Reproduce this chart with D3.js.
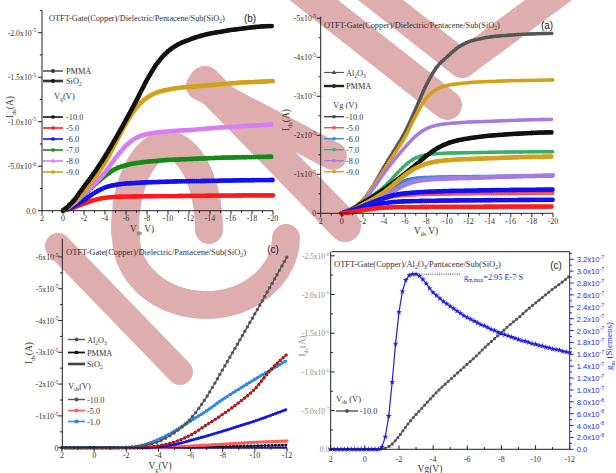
<!DOCTYPE html>
<html><head><meta charset="utf-8">
<script src="https://cdn.jsdelivr.net/npm/d3@7"></script>
<style>
html,body{margin:0;padding:0;background:#fff;}
svg{display:block;}
</style></head><body>
<svg id="chart" width="616" height="473"></svg>
<script>
// ---------- grids ----------
const vdsGrid = [0,-1,-2,-3,-4,-5,-6,-7,-8,-9,-10,-11,-12,-13,-14,-15,-16,-17,-18,-19,-20];
const vgGrid = [2,1,0,-1,-2,-3,-4,-5,-6,-7,-8,-9,-10,-11,-12];
const vgHalfGrid = [2,1.5,1,0.5,0,-0.5,-1,-1.5,-2,-2.5,-3,-3.5,-4,-4.5,-5,-5.5,-6,-6.5,-7,-7.5,-8,-8.5,-9,-9.5,-10,-10.5,-11,-11.5,-12];
const vgFineGrid = [2,1.8,1.6,1.4,1.2,1,0.8,0.6,0.4,0.2,0,-0.2,-0.4,-0.6,-0.8,
  -1,-1.2,-1.4,-1.6,-1.8,-2,-2.2,-2.4,-2.6,-2.8,-3,-3.2,-3.4,-3.6,-3.8,
  -4,-4.2,-4.4,-4.6,-4.8,-5,-5.2,-5.4,-5.6,-5.8,-6,-6.2,-6.4,-6.6,-6.8,
  -7,-7.2,-7.4,-7.6,-7.8,-8,-8.2,-8.4,-8.6,-8.8,-9,-9.2,-9.4,-9.6,-9.8,
  -10,-10.2,-10.4,-10.6,-10.8,-11,-11.2,-11.4,-11.6,-11.8,-12];

// ---------- output curves, PMMA dielectric (drain current, µA) ----------
const pmmaVg10 = [0,-1.1,-2.7,-4.3,-6.1,-8.1,-10.2,-12.4,-14.7,-16.6,-17.9,-18.7,-19.2,-19.6,-19.9,-20.1,-20.3,-20.45,-20.6,-20.7,-20.75];
const pmmaVg9  = [0,-0.9,-2.2,-3.7,-5.4,-7.6,-9.8,-11.6,-12.7,-13.3,-13.6,-13.8,-13.9,-14.0,-14.1,-14.2,-14.3,-14.4,-14.45,-14.5,-14.57];
const pmmaVg8  = [0,-0.8,-1.9,-3.0,-4.3,-5.9,-7.3,-8.2,-8.6,-8.8,-8.9,-9.0,-9.05,-9.15,-9.25,-9.35,-9.4,-9.5,-9.55,-9.62,-9.7];
const pmmaVg7  = [0,-0.8,-1.8,-2.9,-3.9,-4.7,-5.1,-5.35,-5.5,-5.6,-5.7,-5.75,-5.8,-5.85,-5.9,-5.95,-5.97,-6.0,-6.02,-6.05,-6.07];
const pmmaVg6  = [0,-0.5,-1.2,-2.0,-2.6,-2.9,-3.05,-3.12,-3.18,-3.22,-3.26,-3.29,-3.31,-3.33,-3.35,-3.37,-3.39,-3.41,-3.42,-3.44,-3.45];
const pmmaVg5  = [0,-0.35,-0.8,-1.2,-1.45,-1.55,-1.58,-1.6,-1.62,-1.63,-1.64,-1.65,-1.66,-1.67,-1.68,-1.69,-1.7,-1.71,-1.72,-1.72,-1.73];

// ---------- output curves, Al2O3 dielectric (µA) ----------
const alVg10 = [0,-1.2,-3.4,-7.2,-11.9,-16.3,-20.9,-26.8,-32.9,-37.5,-40.2,-42.5,-44.0,-44.7,-45.2,-45.5,-45.7,-45.9,-46.0,-46.1,-46.15];
const alVg9  = [0,-1.2,-3.3,-7.0,-11.1,-15.3,-19.6,-25.0,-29.5,-31.8,-32.8,-33.2,-33.5,-33.7,-33.8,-33.9,-34.0,-34.05,-34.1,-34.15,-34.2];
const alVg8  = [0,-1.1,-3.0,-6.4,-10.3,-13.8,-17.0,-19.8,-21.7,-22.6,-23.0,-23.2,-23.4,-23.5,-23.6,-23.7,-23.8,-23.9,-24.0,-24.05,-24.1];
const alVg7  = [0,-1.0,-2.8,-4.7,-6.8,-9.6,-12.3,-14.2,-15.0,-15.3,-15.45,-15.5,-15.55,-15.6,-15.65,-15.7,-15.72,-15.75,-15.78,-15.8,-15.8];
const alVg6  = [0,-0.7,-1.9,-3.3,-5.0,-6.9,-8.4,-9.0,-9.2,-9.3,-9.35,-9.4,-9.4,-9.45,-9.45,-9.5,-9.5,-9.5,-9.55,-9.55,-9.6];
const alVg5  = [0,-0.6,-1.6,-2.7,-3.7,-4.3,-4.6,-4.75,-4.85,-4.9,-4.95,-5.0,-5.0,-5.05,-5.05,-5.1,-5.1,-5.15,-5.15,-5.2,-5.2];

// ---------- transfer curves vs gate voltage (µA) ----------
const trAlVds10   = [0,0,0,0,-0.1,-0.6,-1.9,-4.7,-9.1,-16.0,-24.6,-33.3,-42.1,-51.0,-60.0];
const trPmmaVds10 = [0,0,0,0,0,-0.1,-0.6,-1.8,-4.0,-7.2,-10.5,-14.2,-18.5,-24.6,-29.4];
const trAlVds1    = [0,0,0,0,-0.1,-0.8,-2.6,-5.2,-8.4,-11.6,-15.2,-18.4,-21.5,-24.5,-27.5];
const trPmmaVds1  = [0,0,0,0,0,-0.05,-0.3,-1.0,-2.3,-3.7,-5.2,-6.8,-8.4,-10.2,-12.1];
const trAlVds5    = [0,0,0,0,0,0,-0.05,-0.2,-0.5,-0.8,-1.1,-1.4,-1.7,-1.9,-2.1];
const trSiVds10   = [0,0,0,0,0,0,0,-0.05,-0.15,-0.3,-0.4,-0.5,-0.6,-0.75,-0.85];
const trSiVds1    = [0,0,0,0,0,0,-0.02,-0.03,-0.04,-0.05,-0.05,-0.06,-0.06,-0.07,-0.07];

// ---------- Al2O3 transfer curve (µA) and transconductance (1e-7 S) ----------
const idsAl = [0,0,0,0,0,0,-0.005,-0.05,-0.17,-0.32,-0.45,-0.57,-0.69,-0.8,-0.9,-1.0,-1.1,-1.2,-1.31,-1.41,-1.51,-1.61,-1.7,-1.8,-1.89,-1.98,-2.07,-2.15,-2.24];
const gmAl = [0,0,0,0,0,0,0,0,0,0,0,0,0,0,0,
  0.04,0.21,0.56,1.13,1.78,2.31,2.66,2.85,2.93,2.95,2.95,2.92,2.86,2.79,2.71,
  2.64,2.59,2.54,2.49,2.45,2.41,2.37,2.33,2.29,2.25,2.22,2.19,2.16,2.13,2.10,
  2.08,2.05,2.02,2.00,1.97,1.95,1.93,1.91,1.89,1.87,1.85,1.83,1.82,1.80,1.78,
  1.77,1.75,1.74,1.72,1.71,1.69,1.68,1.67,1.65,1.64,1.63];
const gmMax = 2.95;

// ---------- tick labels ----------
const vdsTicks = [2,0,-2,-4,-6,-8,-10,-12,-14,-16,-18,-20];
const vdsMinor = [1,-1,-3,-5,-7,-9,-11,-13,-15,-17,-19];
const vgTicks = [2,0,-2,-4,-6,-8,-10,-12];
const vgMinor = [1,-1,-3,-5,-7,-9,-11];
const yTicksB = [0,-5,-10,-15,-20];
const yLabelsB = [["0.0",""],["-5.0x10","-6"],["-1.0x10","-5"],["-1.5x10","-5"],["-2.0x10","-5"]];
const yTicksA = [0,-10,-20,-30,-40,-50];
const yLabelsA = [["0",""],["-1x10","-5"],["-2x10","-5"],["-3x10","-5"],["-4x10","-5"],["-5x10","-5"]];
const yTicksC = [0,-10,-20,-30,-40,-50,-60];
const yLabelsC = [["0",""],["-1x10","-5"],["-2x10","-5"],["-3x10","-5"],["-4x10","-5"],["-5x10","-5"],["-6x10","-5"]];
const yTicksD = [0,-0.5,-1,-1.5,-2,-2.5];
const yLabelsD = [["0.0",""],["-5.0x10","-7"],["-1.0x10","-6"],["-1.5x10","-6"],["-2.0x10","-6"],["-2.5x10","-6"]];
const gmTicks = [0,0.2,0.4,0.6,0.8,1.0,1.2,1.4,1.6,1.8,2.0,2.2,2.4,2.6,2.8,3.0,3.2];
const gmLabels = [["0.0",""],["2.0x10","-8"],["4.0x10","-8"],["6.0x10","-8"],["8.0x10","-8"],["1.0x10","-7"],["1.2x10","-7"],["1.4x10","-7"],["1.6x10","-7"],["1.8x10","-7"],["2.0x10","-7"],["2.2x10","-7"],["2.4x10","-7"],["2.6x10","-7"],["2.8x10","-7"],["3.0x10","-7"],["3.2x10","-7"]];

// ---------- palette ----------
const C = {
  black:"#111111", gold:"#d4a017", violet:"#d77ef0", green:"#138a13", blue:"#1010f0", red:"#ff1a1a",
  gray:"#555555", alViolet:"#a57be0", alGreen:"#35b06a", alBlue:"#3b86d8", lightRed:"#ff4d4d", gmBlue:"#1e1ee6"
};

const SERIF = '"Liberation Serif","Times New Roman",serif';
const SANS = '"Liberation Sans",Arial,sans-serif';
const svg = d3.select("#chart");

// ---------- background stamp ----------
const stamp = [
  {d:"M209,230 A42,86 0 0 0 125,232 L126,236 A80,68 0 0 0 286,238", w:28},
  {d:"M58,246 L180,372", w:26},
  {d:"M205,82 L345,226", w:32},
  {d:"M200,86 L333,156", w:28},
  {d:"M301,-10 L447,105", w:30},
  {d:"M368,-10 L462,64", w:28},
  {d:"M562,-10 L462,64", w:28}
];
svg.append("g").selectAll("path").data(stamp).join("path")
  .attr("d", s => s.d).attr("fill","none").attr("stroke","rgb(222,173,173)")
  .attr("stroke-width", s => s.w).attr("stroke-linecap","round").attr("stroke-linejoin","round");

// ---------- helpers ----------
function rich(g, x, y, parts, o = {}) {
  const size = o.size || 8.3;
  const t = g.append("text").attr("x", x).attr("y", y)
    .attr("font-size", size).attr("font-family", o.family || SERIF)
    .attr("fill", o.color || "#333").attr("text-anchor", o.anchor || "start");
  if (o.rotate) t.attr("transform", `rotate(${o.rotate},${x},${y})`);
  let shift = 0;
  parts.forEach(p => {
    const [s, k] = Array.isArray(p) ? p : [p, ""];
    if (!s) return;
    const target = k === "sub" ? size * 0.28 : k === "sup" ? -size * 0.42 : 0;
    const sp = t.append("tspan").text(s).attr("dy", target - shift);
    shift = target;
    if (k) sp.attr("font-size", size * 0.66);
  });
  return t;
}

function xAxis(g, x, y0, o) {
  const col = o.color || "#222";
  g.append("line").attr("x1", o.from).attr("x2", o.to).attr("y1", y0).attr("y2", y0).attr("stroke", col);
  o.majors.forEach(v => {
    g.append("line").attr("x1", x(v)).attr("x2", x(v)).attr("y1", y0).attr("y2", y0 + o.dir * 4).attr("stroke", col);
    rich(g, x(v), y0 + o.labelDy, [String(v)], {anchor:"middle", size:o.size || 8, color:o.labelColor || "#333"});
  });
  o.minors.forEach(v => {
    g.append("line").attr("x1", x(v)).attr("x2", x(v)).attr("y1", y0).attr("y2", y0 + o.dir * 2.2).attr("stroke", col);
  });
}

function yAxis(g, y, x0, o) {
  const col = o.color || "#222";
  g.append("line").attr("x1", x0).attr("x2", x0).attr("y1", o.from).attr("y2", o.to).attr("stroke", col);
  o.majors.forEach((v, i) => {
    g.append("line").attr("x1", x0).attr("x2", x0 + o.dir * 4).attr("y1", y(v)).attr("y2", y(v)).attr("stroke", col);
    const [m, e] = o.labels[i];
    rich(g, x0 + o.labelDx, y(v) + 3, [m, [e, "sup"]],
      {anchor: o.labelDx < 0 ? "end" : "start", size: o.size || 7.8, color: o.labelColor || "#333", family: o.family});
  });
  o.minors.forEach(v => {
    g.append("line").attr("x1", x0).attr("x2", x0 + o.dir * 2.2).attr("y1", y(v)).attr("y2", y(v)).attr("stroke", col);
  });
}

function lineGen(x, y, xs, curve) {
  return d3.line().x((d, i) => x(xs[i])).y(d => y(d)).curve(curve || d3.curveMonotoneX);
}

// dense-marker curve: solid core plus a row of round dots for the marker texture
function denseCurve(g, x, y, xs, ys, color, w, gap) {
  const d = lineGen(x, y, xs)(ys);
  g.append("path").attr("d", d).attr("fill","none").attr("stroke", color).attr("stroke-width", w).attr("stroke-linejoin","round");
  g.append("path").attr("d", d).attr("fill","none").attr("stroke", color).attr("stroke-width", w + 1.2)
    .attr("stroke-dasharray", `0,${gap || 2.2}`).attr("stroke-linecap","round");
}

// thin line with dotted markers
function dottedCurve(g, x, y, xs, ys, lineColor, dotColor, lw, dw, gap) {
  const d = lineGen(x, y, xs)(ys);
  if (lw > 0) g.append("path").attr("d", d).attr("fill","none").attr("stroke", lineColor).attr("stroke-width", lw);
  g.append("path").attr("d", d).attr("fill","none").attr("stroke", dotColor).attr("stroke-width", dw)
    .attr("stroke-dasharray", `0,${gap}`).attr("stroke-linecap","round");
}

function legendRow(g, x0, x1, y, color, w, label, marker, labelX, o = {}) {
  g.append("line").attr("x1", x0).attr("x2", x1).attr("y1", y).attr("y2", y).attr("stroke", color).attr("stroke-width", w);
  const cx = (x0 + x1) / 2;
  if (marker) {
    g.append("path").attr("transform", `translate(${cx},${y})`)
      .attr("d", d3.symbol().type(marker).size(o.msize || 12)()).attr("fill", o.mcolor || color);
  }
  rich(g, labelX, y + 3, label, {size: o.size || 8.3});
}

// =====================================================================
// Panel (b): PMMA / SiO2 output characteristics
// =====================================================================
{
  const g = svg.append("g");
  const x = d3.scaleLinear().domain([2, -20]).range([42, 273]);
  const y = d3.scaleLinear().domain([0, -20]).range([210.7, 32.7]);
  const series = [[pmmaVg5,C.red],[pmmaVg6,C.blue],[pmmaVg7,C.green],[pmmaVg8,C.violet],[pmmaVg9,C.gold],[pmmaVg10,C.black]];
  series.forEach(([ys, c]) => denseCurve(g, x, y, vdsGrid, ys, c, 3.6, 2));
  xAxis(g, x, 210.7, {from:42, to:273, majors:vdsTicks, minors:vdsMinor, dir:1, labelDy:10.5});
  yAxis(g, y, 42, {from:210.7, to:10.5, majors:yTicksB, minors:[-2.5,-7.5,-12.5,-17.5,-22.5], labels:yLabelsB, dir:-1, labelDx:-6});
  rich(g, 49, 21, ["OTFT-Gate(Copper)/Dielectric/Pentacene/Sub(SiO", ["2","sub"], ")"], {size:8.3});
  rich(g, 250, 22, ["(b)"], {family:SANS, size:10, anchor:"middle", color:"#222"});
  rich(g, 13, 107, ["I", ["ds","sub"], "(A)"], {size:9.5, anchor:"middle", rotate:-90});
  rich(g, 142, 232, ["V", ["ds","sub"], " V)"], {size:9.3, anchor:"middle"});
  legendRow(g, 43, 63, 71, "#777", 2, ["PMMA"], d3.symbolCircle, 66, {mcolor:"#333"});
  legendRow(g, 43, 63, 81, "#333", 2.6, ["SiO", ["2","sub"]], d3.symbolCircle, 66, {mcolor:"#111"});
  rich(g, 54, 99, ["V", ["g","sub"], "(V)"], {size:8.5});
  const lg = [["-10.0",C.black],["-5.0",C.red],["-6.0",C.blue],["-7.0",C.green],["-8.0",C.violet],["-9.0",C.gold]];
  lg.forEach(([t, c], i) => legendRow(g, 43, 63, 117 + i * 11, c, 1.6, [t], d3.symbolSquare, 66, {msize:10}));
}

// =====================================================================
// Panel (a): Al2O3 / PMMA output characteristics
// =====================================================================
{
  const g = svg.append("g");
  const x = d3.scaleLinear().domain([2, -20]).range([320.7, 553]);
  const y = d3.scaleLinear().domain([0, -50]).range([213.3, 18.3]);
  const alSeries = [[alVg10,C.gray],[alVg9,C.gold],[alVg8,C.alViolet],[alVg7,C.alGreen],[alVg6,C.alBlue],[alVg5,C.lightRed]];
  alSeries.forEach(([ys, c]) => denseCurve(g, x, y, vdsGrid, ys, c, 2.6, 2.4));
  const pmSeries = [[pmmaVg10,C.black],[pmmaVg9,C.gold],[pmmaVg8,C.alViolet],[pmmaVg7,C.blue],[pmmaVg6,C.blue],[pmmaVg5,C.red]];
  pmSeries.forEach(([ys, c]) => denseCurve(g, x, y, vdsGrid, ys, c, 3.6, 2));
  xAxis(g, x, 213.3, {from:320.7, to:553, majors:vdsTicks, minors:vdsMinor, dir:1, labelDy:10.5});
  yAxis(g, y, 320.7, {from:213.3, to:16.7, majors:yTicksA, minors:[-5,-15,-25,-35,-45], labels:yLabelsA, dir:-1, labelDx:-4.5});
  rich(g, 324, 28, ["OTFT-Gate(Copper)/Dielectric/Pentacene/Sub(SiO", ["2","sub"], ")"], {size:8.3});
  rich(g, 547, 29, ["(a)"], {family:SANS, size:10, anchor:"middle", color:"#222"});
  rich(g, 289, 120, ["I", ["ds","sub"], "(A)"], {size:9.5, anchor:"middle", rotate:-90});
  rich(g, 426, 233.5, ["V", ["ds","sub"], " V)"], {size:9.3, anchor:"middle"});
  legendRow(g, 324, 344, 72.5, "#555", 1.2, ["Al", ["2","sub"], "O", ["3","sub"]], d3.symbolTriangle, 346, {msize:10});
  legendRow(g, 324, 344, 86, "#222", 2.4, ["PMMA"], d3.symbolCircle, 346, {msize:14});
  rich(g, 333, 108, ["Vg (V)"], {size:8.5});
  const lg = [["-10.0","#444"],["-5.0",C.lightRed],["-6.0",C.alBlue],["-7.0",C.alGreen],["-8.0",C.alViolet],["-9.0",C.gold]];
  lg.forEach(([t, c], i) => legendRow(g, 324, 344, 116.7 + i * 11, c, 1.4, [t], d3.symbolSquare, 346, {msize:9}));
}

// =====================================================================
// Panel (c): transfer characteristics for the three dielectrics
// =====================================================================
{
  const g = svg.append("g");
  const x = d3.scaleLinear().domain([2, -12]).range([62, 287]);
  const y = d3.scaleLinear().domain([0, -60]).range([447.7, 256.9]);
  dottedCurve(g, x, y, vgGrid, trSiVds1, "#3a2fb8", "#3a2fb8", 1.2, 3, 2.6);
  dottedCurve(g, x, y, vgGrid, trSiVds10, "#111", "#111", 1, 2.8, 3.5);
  dottedCurve(g, x, y, vgGrid, trAlVds5, "#ff5a5a", "#ff5a5a", 2, 3.6, 3);
  dottedCurve(g, x, y, vgGrid, trPmmaVds1, "#1515e8", "#1515e8", 1.8, 3.2, 2.6);
  dottedCurve(g, x, y, vgGrid, trAlVds1, "#2f86e6", "#2f86e6", 1.6, 3.6, 3.2);
  dottedCurve(g, x, y, vgGrid, trPmmaVds10, "#111", "#111", 0, 3.2, 4);
  g.append("path").attr("d", lineGen(x, y, vgGrid)(trPmmaVds10)).attr("fill","none").attr("stroke","#ee1010").attr("stroke-width",1.6);
  dottedCurve(g, x, y, vgGrid, trAlVds10, "#555", "#555", 1.3, 3.4, 5);
  xAxis(g, x, 447.7, {from:62, to:287, majors:vgTicks, minors:vgMinor, dir:1, labelDy:10});
  yAxis(g, y, 62.3, {from:447.7, to:239, majors:yTicksC, minors:[-5,-15,-25,-35,-45,-55], labels:yLabelsC, dir:-1, labelDx:-4});
  rich(g, 66, 255, ["OTFT-Gate(Copper)/Dielectric/Pantacene/Sub(SiO", ["2","sub"], ")"], {size:8.5});
  rich(g, 273, 253, ["(c)"], {family:SANS, size:10, anchor:"middle", color:"#222"});
  rich(g, 32, 353, ["I", ["ds","sub"], "(A)"], {size:9.5, anchor:"middle", rotate:-90});
  rich(g, 160, 469, ["V", ["g","sub"], "(V)"], {size:9.5, anchor:"middle"});
  legendRow(g, 68, 85, 339.5, "#555", 1.4, ["Al", ["2","sub"], "O", ["3","sub"]], d3.symbolCircle, 87, {msize:12});
  legendRow(g, 68, 85, 352.5, "#111", 1.8, ["PMMA"], d3.symbolSquare, 87, {msize:10});
  legendRow(g, 68, 85, 364, "#444", 2.6, ["SiO", ["2","sub"]], null, 87);
  rich(g, 68, 389, ["V", ["ds","sub"], "(V)"], {size:8.5});
  legendRow(g, 68, 85, 399.5, "#555", 1.4, ["-10.0"], d3.symbolCircle, 87, {msize:12});
  legendRow(g, 68, 85, 410.5, "#ff5a5a", 1.6, ["-5.0"], d3.symbolSquare, 87, {msize:12});
  legendRow(g, 68, 85, 421.5, "#2f86e6", 1.6, ["-1.0"], d3.symbolSquare, 87, {msize:12});
}

// =====================================================================
// Panel (d): Al2O3 transfer curve with transconductance
// =====================================================================
{
  const g = svg.append("g");
  const x = d3.scaleLinear().domain([2, -12]).range([330.7, 569.7]);
  const y = d3.scaleLinear().domain([0, -2.5]).range([449.3, 255.8]);
  const yg = d3.scaleLinear().domain([0, 3.2]).range([449.3, 259.3]);

  dottedCurve(g, x, y, vgHalfGrid, idsAl, "#555", "#555", 1.1, 3.2, 4.2);

  const gmLine = d3.line().x((d, i) => x(vgFineGrid[i])).y(d => yg(d));
  g.append("path").attr("d", gmLine(gmAl)).attr("fill","none").attr("stroke", C.gmBlue).attr("stroke-width", 1.2);
  g.selectAll("path.gm").data(gmAl).join("path").attr("class","gm")
    .attr("transform", (d, i) => `translate(${x(vgFineGrid[i])},${yg(d)})`)
    .attr("d", d3.symbol().type(d3.symbolStar).size(11)()).attr("fill", C.gmBlue);

  // peak transconductance marker
  const iPeak = gmAl.indexOf(gmMax);
  g.append("line").attr("x1", x(vgFineGrid[iPeak])).attr("x2", 461).attr("y1", yg(gmMax)).attr("y2", yg(gmMax))
    .attr("stroke", C.gmBlue).attr("stroke-width", 1).attr("stroke-dasharray", "1,1.2");
  rich(g, 464, yg(gmMax) + 5.5, ["g", ["m,max","sub"], "=2.95 E-7 S"], {size:8.3, color:C.gmBlue});

  // frame
  g.append("line").attr("x1", 331.7).attr("x2", 569.7).attr("y1", 251.7).attr("y2", 251.7).attr("stroke", "#222");
  xAxis(g, x, 449.3, {from:330.7, to:569.7, majors:vgTicks, minors:vgMinor, dir:-1, labelDy:13});
  yAxis(g, y, 330.7, {from:449.3, to:251.7, majors:yTicksD, minors:[-0.25,-0.75,-1.25,-1.75,-2.25], labels:yLabelsD, dir:1, labelDx:-1.5, labelColor:"#8a8a8a", size:7.5});
  const gmMinor = [0.1,0.3,0.5,0.7,0.9,1.1,1.3,1.5,1.7,1.9,2.1,2.3,2.5,2.7,2.9,3.1,3.3];
  yAxis(g, yg, 569.7, {from:449.3, to:251.7, majors:gmTicks, minors:gmMinor, labels:gmLabels, dir:1, labelDx:7, color:C.gmBlue, labelColor:C.gmBlue, size:7.6, family:SANS});

  rich(g, 334, 267, ["OTFT-Gate(Copper)/Al", ["2","sub"], "O", ["3","sub"], "/Pantacene/Sub(SiO", ["2","sub"], ")"], {size:8.5});
  rich(g, 556, 269, ["(c)"], {family:SANS, size:10, anchor:"middle", color:"#222"});
  rich(g, 305, 346, ["I", ["ds","sub"], "(A)"], {size:9, anchor:"middle", rotate:-90, color:"#8a8a8a"});
  rich(g, 612, 346, ["g", ["m","sub"], " (Siemens)"], {size:9, anchor:"middle", rotate:-90, color:C.gmBlue});
  rich(g, 430, 472, ["Vg(V)"], {size:9.5, anchor:"middle"});
  rich(g, 336, 402, ["V", ["ds","sub"], " (V)"], {size:8.5});
  legendRow(g, 336, 358, 411, "#555", 1.4, ["-10.0"], d3.symbolCircle, 360, {msize:12});
}
</script>
</body></html>
